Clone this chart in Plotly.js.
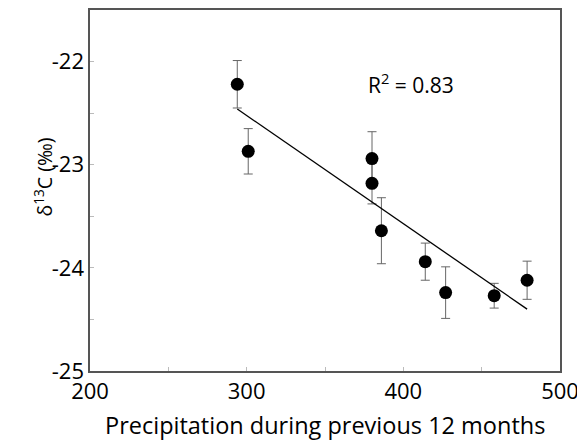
<!DOCTYPE html>
<html>
<head>
<meta charset="utf-8">
<script src="https://cdn.plot.ly/plotly-3.0.1.min.js"></script>
<style>html,body{margin:0;padding:0;background:#fff;}#chart{width:577px;height:443px;}</style>
</head>
<body>
<div id="chart"></div>
<script>
const precip = [294, 301, 380, 380, 386, 414, 427, 458, 479];
const d13C   = [-22.22, -22.87, -22.94, -23.18, -23.64, -23.94, -24.24, -24.27, -24.12];
const errC   = [0.23, 0.22, 0.26, 0.20, 0.32, 0.18, 0.25, 0.12, 0.185];
const fitX = [294, 479];
const fitY = [-22.46, -24.40];
const xTickVals = [200, 250, 300, 350, 400, 450, 500];
const xTickText = ['200', '', '300', '', '400', '', '500'];
const yTickVals = [-25, -24.5, -24, -23.5, -23, -22.5, -22];
const yTickText = ['-25', '', '-24', '', '-23', '', '-22'];
const r2Label = 'R<sup>2</sup> = 0.83';
const r2Pos = [405, -22.21];
const yTitle = 'δ<sup>13</sup>C (‰)';
const xTitle = 'Precipitation during previous 12 months';

const font = 'Open Sans, DejaVu Sans, sans-serif';
const M = {l: 90, r: 17, t: 10, b: 72};
const W = 577, H = 443;
const plotW = W - M.l - M.r, plotH = H - M.t - M.b;
const px2paperX = px => (px - M.l) / plotW;
const px2paperY = py => (H - M.b - py) / plotH;

const traces = [
  {
    x: precip, y: d13C, mode: 'markers', type: 'scatter', showlegend: false,
    marker: {color: '#000', size: 13},
    error_y: {type: 'data', array: errC, visible: true, color: '#666', thickness: 1, width: 4.5}
  },
  {
    x: fitX, y: fitY, mode: 'lines', type: 'scatter', showlegend: false,
    line: {color: '#000', width: 1.3}
  }
];

const layout = {
  width: W, height: H,
  margin: M,
  font: {family: font, color: '#000', size: 22},
  xaxis: {
    range: [200, 500], tickmode: 'array', tickvals: xTickVals, ticktext: xTickText,
    ticklabeloverflow: 'allow',
    showline: true, mirror: true, showgrid: false,
    ticks: 'inside', ticklen: 4, tickcolor: '#bbb',
    tickfont: {family: font, size: 22}
  },
  yaxis: {
    range: [-25, -21.5], tickmode: 'array', tickvals: yTickVals, ticktext: yTickText,
    showline: true, mirror: true, showgrid: false,
    ticks: 'inside', ticklen: 4, tickcolor: '#bbb',
    tickfont: {family: font, size: 22}
  },
  annotations: [
    {
      x: r2Pos[0], y: r2Pos[1], xref: 'x', yref: 'y', text: r2Label,
      showarrow: false, font: {family: font, size: 21, color: '#000'}
    },
    {
      x: px2paperX(26), y: px2paperY(177), xref: 'paper', yref: 'paper', text: yTitle,
      showarrow: false, textangle: -90, font: {family: font, size: 19.5, color: '#000'}
    },
    {
      x: 0.5, y: px2paperY(425), xref: 'paper', yref: 'paper', text: xTitle,
      showarrow: false, yanchor: 'middle', font: {family: font, size: 23.5, color: '#000'}
    }
  ]
};

Plotly.newPlot('chart', traces, layout, {displayModeBar: false, staticPlot: true}).then(() => {
  const ax = {linecolor: '#555', linewidth: 1.6};
  return Plotly.relayout('chart', {
    'xaxis.linecolor': ax.linecolor, 'xaxis.linewidth': ax.linewidth, 'xaxis.zeroline': false,
    'yaxis.linecolor': ax.linecolor, 'yaxis.linewidth': ax.linewidth, 'yaxis.zeroline': false
  });
});
</script>
</body>
</html>
